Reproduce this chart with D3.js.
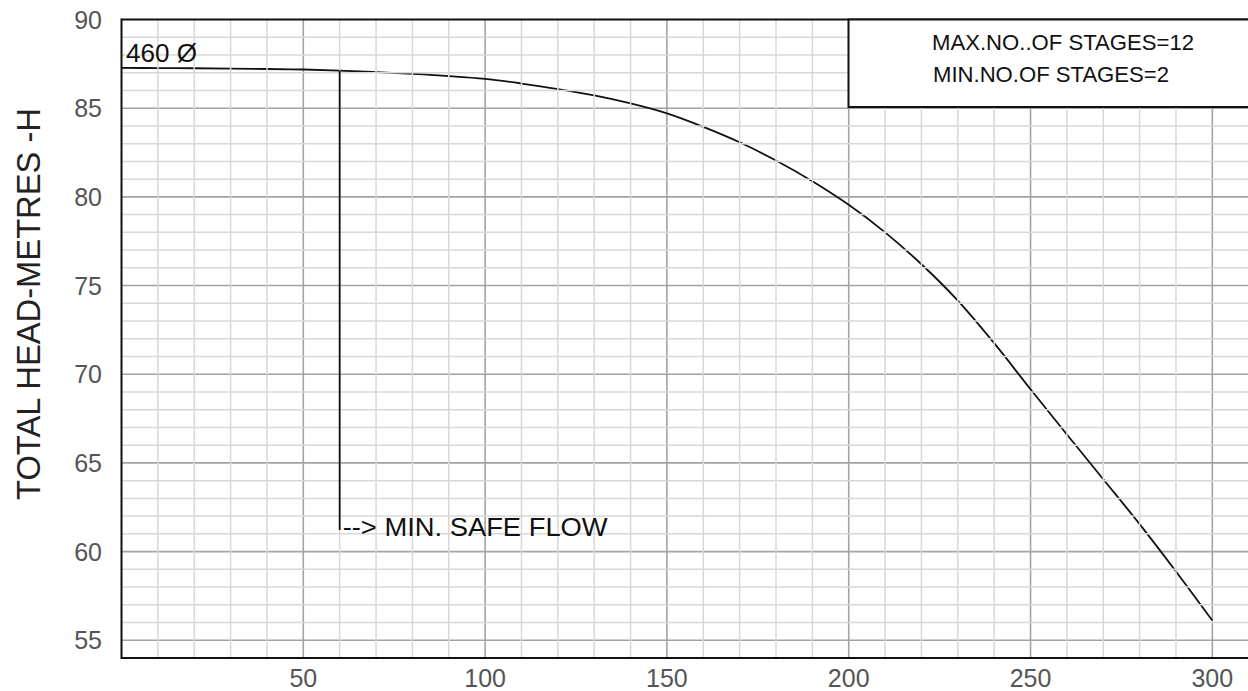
<!DOCTYPE html>
<html>
<head>
<meta charset="utf-8">
<script src="https://cdn.jsdelivr.net/npm/d3@7/dist/d3.min.js"></script>
<style>
  html, body { margin: 0; padding: 0; background: #fff; }
  svg { display: block; }
  text { font-family: "Liberation Sans", Arial, sans-serif; }
</style>
</head>
<body>
<svg id="chart" width="1248" height="691"></svg>
<script>
// ---- data ----
const flow = [0, 10, 20, 30, 40, 50, 60, 70, 80, 90, 100, 110, 120, 130, 140, 150,
              160, 170, 180, 190, 200, 210, 220, 230, 240, 250, 260, 270, 280, 290, 300];
const head = [87.27, 87.26, 87.25, 87.23, 87.21, 87.18, 87.12, 87.03, 86.93, 86.81, 86.65,
              86.39, 86.08, 85.72, 85.27, 84.71, 83.95, 83.08, 82.05, 80.88, 79.55,
              78.0, 76.2, 74.15, 71.75, 69.15, 66.6, 64.08, 61.55, 58.88, 56.11];
const xTicks = [50, 100, 150, 200, 250, 300];
const yTicks = [55, 60, 65, 70, 75, 80, 85, 90];
const minSafeFlow = 60;
const minSafeLabelHead = 61.22;
const curveLabel = "460 Ø";
const safeLabel = "--> MIN. SAFE FLOW";
const boxLines = ["MAX.NO..OF STAGES=12", "MIN.NO.OF STAGES=2"];
const yTitle = "TOTAL HEAD-METRES -H";

// ---- layout ----
const svg = d3.select("#chart");
const x = d3.scaleLinear().domain([0, 310]).range([121.5, 1248.7]);
const y = d3.scaleLinear().domain([54, 90]).range([658, 19.5]);

const minorX = d3.range(10, 311, 10).filter(v => v % 50 !== 0);
const majorX = d3.range(50, 311, 50);
const minorY = d3.range(54, 90, 1).filter(v => v % 5 !== 0);
const majorY = d3.range(55, 90, 5);

const gMajor = svg.append("g");
gMajor.selectAll("line.vx").data(majorX).join("line")
  .attr("x1", d => x(d)).attr("x2", d => x(d))
  .attr("y1", y(90)).attr("y2", y(54))
  .attr("stroke", "#a3a3a3").attr("stroke-width", 1.6);
gMajor.selectAll("line.hy").data(majorY).join("line")
  .attr("x1", x(0)).attr("x2", x(310))
  .attr("y1", d => y(d)).attr("y2", d => y(d))
  .attr("stroke", "#a3a3a3").attr("stroke-width", 1.6);

// curve
const line = d3.line().x((d, i) => x(flow[i])).y(d => y(d)).curve(d3.curveCatmullRom.alpha(0.5));
svg.append("path").datum(head)
  .attr("d", line)
  .attr("fill", "none")
  .attr("stroke", "#111")
  .attr("stroke-width", 1.8);

// minor grid drawn over curve (as in the reference)
const gMinor = svg.append("g");
gMinor.selectAll("line.vx").data(minorX).join("line")
  .attr("x1", d => x(d)).attr("x2", d => x(d))
  .attr("y1", y(90)).attr("y2", y(54))
  .attr("stroke", "#d8d8d8").attr("stroke-width", 1.5);
gMinor.selectAll("line.hy").data(minorY).join("line")
  .attr("x1", x(0)).attr("x2", x(310))
  .attr("y1", d => y(d)).attr("y2", d => y(d))
  .attr("stroke", "#d8d8d8").attr("stroke-width", 1.5);

// frame
svg.append("line").attr("x1", x(0)).attr("x2", x(0)).attr("y1", y(90) - 1).attr("y2", y(54) + 1)
  .attr("stroke", "#111").attr("stroke-width", 2);
svg.append("line").attr("x1", x(0)).attr("x2", x(310)).attr("y1", y(54)).attr("y2", y(54))
  .attr("stroke", "#111").attr("stroke-width", 2.2);
svg.append("line").attr("x1", x(0)).attr("x2", x(310)).attr("y1", y(90)).attr("y2", y(90))
  .attr("stroke", "#111").attr("stroke-width", 2);

// min safe flow marker
const h60 = head[flow.indexOf(minSafeFlow)];
svg.append("line")
  .attr("x1", x(minSafeFlow)).attr("x2", x(minSafeFlow))
  .attr("y1", y(h60)).attr("y2", y(minSafeLabelHead))
  .attr("stroke", "#111").attr("stroke-width", 1.8);
svg.append("text")
  .attr("x", x(minSafeFlow) + 3).attr("y", 536)
  .attr("font-size", 26).attr("fill", "#111")
  .attr("textLength", 265).attr("lengthAdjust", "spacingAndGlyphs")
  .text(safeLabel);

// curve label
svg.append("text")
  .attr("x", x(0) + 4.5).attr("y", 61.5)
  .attr("font-size", 25).attr("fill", "#111")
  .attr("textLength", 71).attr("lengthAdjust", "spacingAndGlyphs")
  .text(curveLabel);

// stage box
svg.append("rect")
  .attr("x", 848.5).attr("y", 19.5).attr("width", 420).attr("height", 87.5)
  .attr("fill", "#fff").attr("stroke", "#111").attr("stroke-width", 2);
svg.append("text").attr("x", 932).attr("y", 50)
  .attr("font-size", 21.5).attr("fill", "#111")
  .attr("textLength", 262).attr("lengthAdjust", "spacingAndGlyphs")
  .text(boxLines[0]);
svg.append("text").attr("x", 933).attr("y", 82)
  .attr("font-size", 21.5).attr("fill", "#111")
  .attr("textLength", 236).attr("lengthAdjust", "spacingAndGlyphs")
  .text(boxLines[1]);

// tick labels
svg.append("g").selectAll("text").data(yTicks).join("text")
  .attr("x", 102).attr("y", d => y(d))
  .attr("dy", "0.36em")
  .attr("text-anchor", "end")
  .attr("font-size", 25).attr("fill", "#555")
  .text(d => d);
svg.append("g").selectAll("text").data(xTicks).join("text")
  .attr("x", d => x(d)).attr("y", 687)
  .attr("text-anchor", "middle")
  .attr("font-size", 25).attr("fill", "#555")
  .text(d => d);

// y title
svg.append("text")
  .attr("transform", "translate(40,304) rotate(-90)")
  .attr("text-anchor", "middle")
  .attr("font-size", 34).attr("fill", "#222")
  .attr("textLength", 392).attr("lengthAdjust", "spacingAndGlyphs")
  .text(yTitle);
</script>
</body>
</html>
